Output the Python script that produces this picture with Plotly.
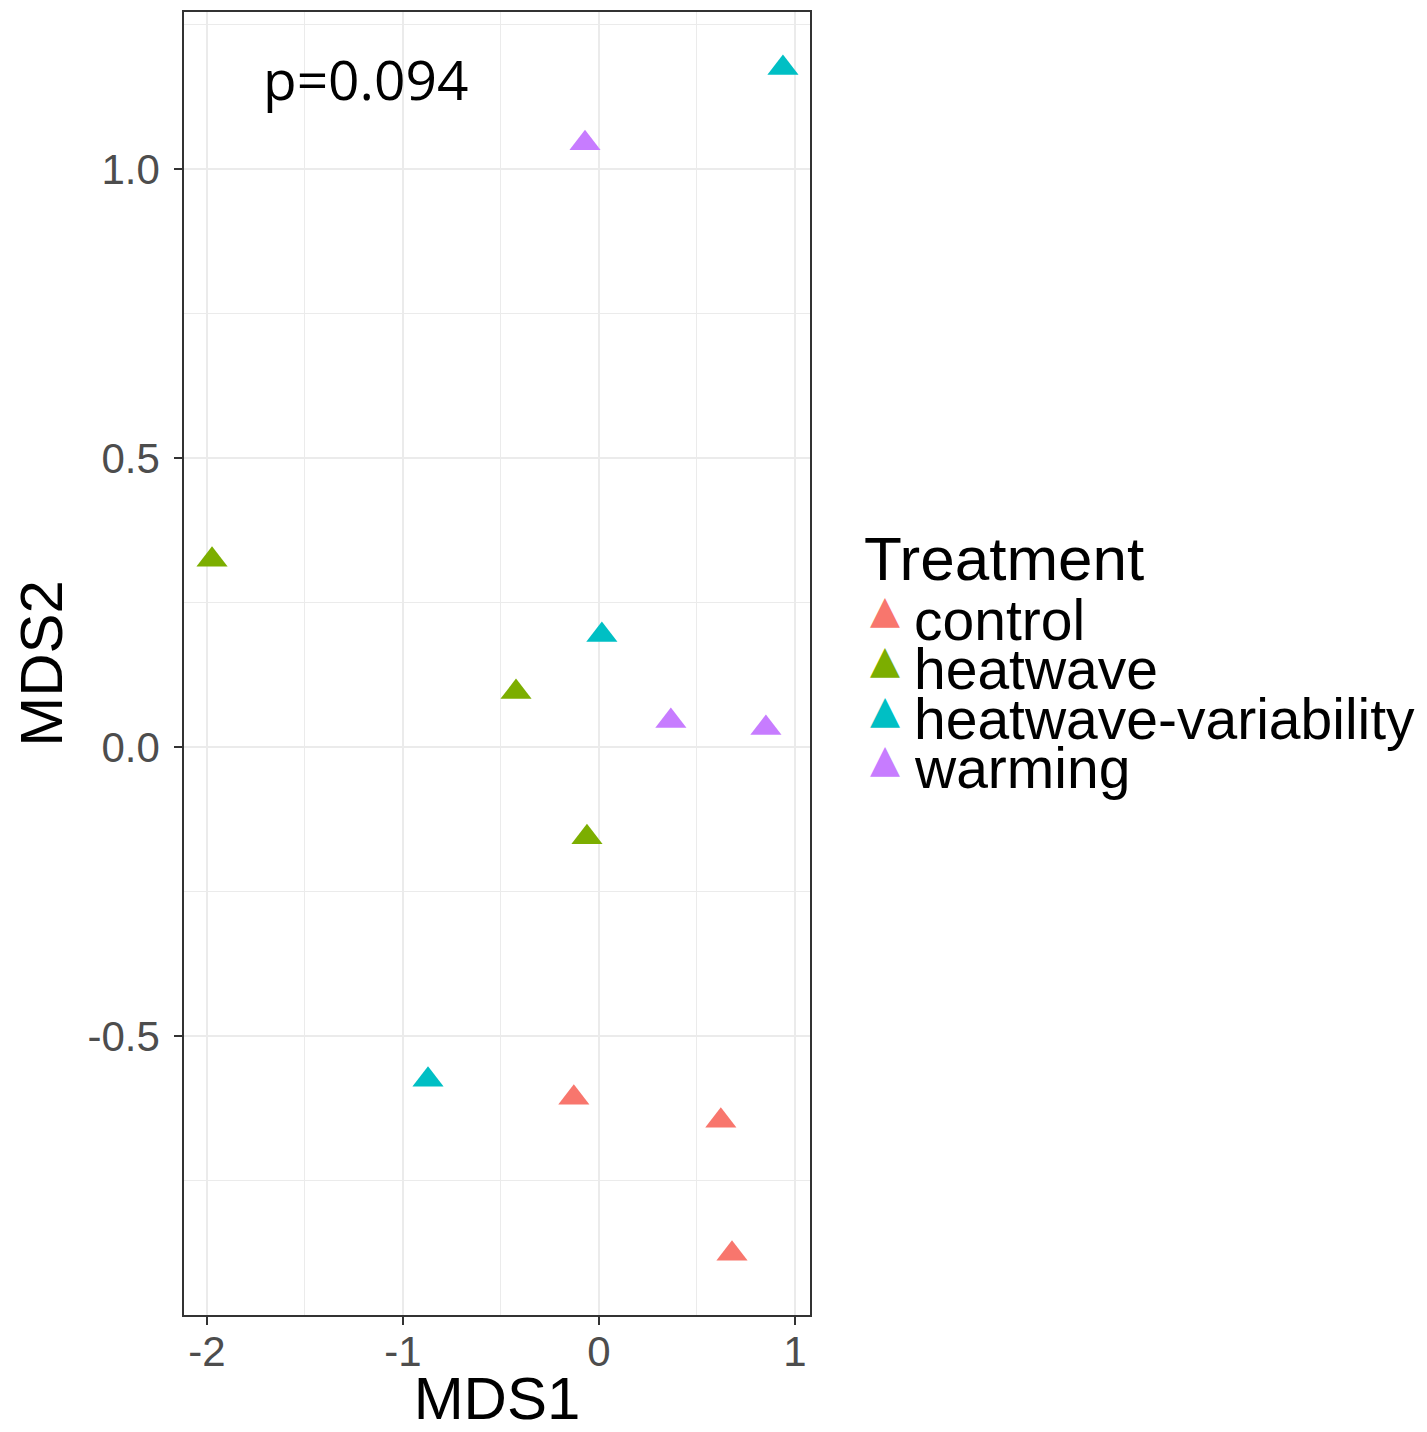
import plotly.graph_objects as go

treatments = ["control", "heatwave", "heatwave-variability", "warming"]
colors = ["#F8766D", "#7CAE00", "#00BFC4", "#C77CFF"]

control_x = [-0.128, 0.622, 0.679]
control_y = [-0.607, -0.647, -0.877]
heatwave_x = [-1.974, -0.423, -0.061]
heatwave_y = [0.324, 0.095, -0.156]
hv_x = [0.939, 0.015, -0.872]
hv_y = [1.175, 0.194, -0.576]
warming_x = [-0.071, 0.367, 0.852]
warming_y = [1.045, 0.045, 0.033]

series_x = [control_x, heatwave_x, hv_x, warming_x]
series_y = [control_y, heatwave_y, hv_y, warming_y]

x_ticks = [-2, -1, 0, 1]
y_ticks = [-0.5, 0.0, 0.5, 1.0]
y_ticklabels = ["-0.5", "0.0", "0.5", "1.0"]

fig = go.Figure()
for name, col, xs, ys in zip(treatments, colors, series_x, series_y):
    fig.add_trace(go.Scatter(
        x=xs, y=ys, mode="markers", name=name, showlegend=False,
        marker=dict(symbol="triangle-up", size=27, color=col, line=dict(width=0)),
    ))

grid_col = "#EBEBEB"
fig.update_xaxes(
    range=[-2.117, 1.077], tickvals=x_ticks, ticktext=[str(v) for v in x_ticks],
    showgrid=True, gridcolor=grid_col, gridwidth=2,
    minor=dict(dtick=0.5, showgrid=True, gridcolor=grid_col, gridwidth=1),
    zeroline=False, showline=True, mirror=True, linecolor="#333333", linewidth=1.5,
    ticks="outside", ticklen=8, tickwidth=1.5, tickcolor="#333333",
    ticklabelstandoff=-9, automargin=False,
    tickfont=dict(family="Liberation Sans", size=42, color="#4D4D4D"),
    title=dict(text="MDS1", font=dict(family="Liberation Sans", size=60, color="black")),
)
fig.update_yaxes(
    range=[-0.983, 1.272], tickvals=y_ticks, ticktext=y_ticklabels,
    showgrid=True, gridcolor=grid_col, gridwidth=2,
    minor=dict(dtick=0.25, showgrid=True, gridcolor=grid_col, gridwidth=1),
    zeroline=False, showline=True, mirror=True, linecolor="#333333", linewidth=1.5,
    ticks="outside", ticklen=8, tickwidth=1.5, tickcolor="#333333",
    ticklabelstandoff=6, automargin=False,
    tickfont=dict(family="Liberation Sans", size=42, color="#4D4D4D"),
    title=dict(text="MDS2", font=dict(family="Liberation Sans", size=60, color="black")),
)

annotations = [
    dict(x=-1.19, y=1.157, xref="x", yref="y", text="p=0.094", showarrow=False,
         xanchor="center", yanchor="middle",
         font=dict(family="Open Sans", size=55, color="black")),
    dict(x=(862 - 184) / 626, y=(1315 - 558) / 1303, xref="paper", yref="paper",
         text="Treatment", showarrow=False, xanchor="left", yanchor="middle",
         font=dict(family="Liberation Sans", size=62, color="black")),
]
tri_px = [610, 659, 709, 758]
txt_px = [620, 669, 719, 768]
for name, col, tp, sp in zip(treatments, colors, tri_px, txt_px):
    annotations.append(dict(x=(885 - 184) / 626, y=(1315 - tp) / 1303, xref="paper", yref="paper",
                            text="▲", showarrow=False, xanchor="center", yanchor="middle",
                            font=dict(family="DejaVu Sans", size=39, color=col)))
    annotations.append(dict(x=(912 - 184) / 626, y=(1315 - sp) / 1303, xref="paper", yref="paper",
                            text=name, showarrow=False, xanchor="left", yanchor="middle",
                            font=dict(family="Liberation Sans", size=57, color="black")))

fig.update_layout(
    width=1419, height=1424,
    margin=dict(l=176, r=617, t=4, b=117),
    plot_bgcolor="white", paper_bgcolor="white",
    annotations=annotations,
    showlegend=False,
)

fig.write_html("out.html")
